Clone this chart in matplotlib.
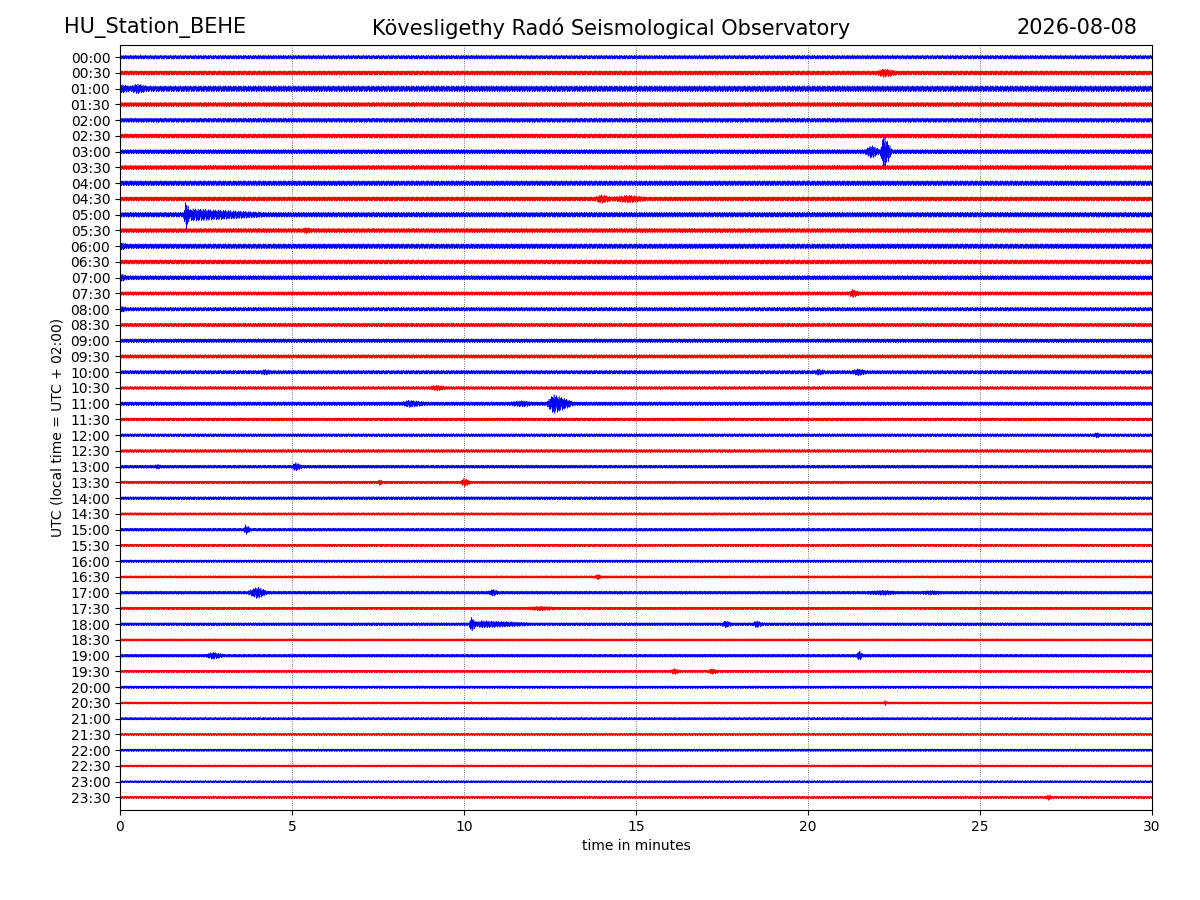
import matplotlib
matplotlib.use('Agg')
import matplotlib.pyplot as plt
import numpy as np

# Row labels (UTC start of each 30 min line)
row_labels = ['%02d:%02d' % (h, m) for h in range(24) for m in (0, 30)]
row_colors = ['b', 'r'] * 24

# Background noise half-width of each line (in row units)
noise_amp = [0.13, 0.15, 0.20, 0.15, 0.15, 0.15, 0.15, 0.15,
             0.17, 0.15, 0.17, 0.15, 0.17, 0.15, 0.15, 0.13,
             0.13, 0.13, 0.13, 0.13, 0.13, 0.11, 0.13, 0.11,
             0.11, 0.11, 0.11, 0.095, 0.11, 0.095, 0.11, 0.09,
             0.095, 0.09, 0.11, 0.095, 0.11, 0.09, 0.11, 0.09,
             0.095, 0.085, 0.09, 0.08, 0.09, 0.08, 0.08, 0.085]

# Events: (row, onset, peak, end, peak half-amplitude) in minutes / row units
events = [
    ('00:30', 22.0, 22.2, 22.6, 0.3),
    ('01:00', 0.0, 0.05, 0.3, 0.3),
    ('01:00', 0.3, 0.5, 0.8, 0.33),
    ('03:00', 21.65, 21.85, 22.1, 0.45),
    ('03:00', 22.1, 22.2, 22.45, 1.2),
    ('04:30', 13.8, 14.0, 14.3, 0.3),
    ('04:30', 14.3, 14.8, 15.3, 0.27),
    ('05:00', 1.85, 1.92, 2.05, 1.0),
    ('05:00', 1.9, 2.1, 4.2, 0.42),
    ('05:30', 5.3, 5.4, 5.6, 0.22),
    ('06:00', 0.0, 0.05, 0.2, 0.27),
    ('07:00', 0.0, 0.05, 0.2, 0.27),
    ('07:30', 21.2, 21.3, 21.5, 0.3),
    ('08:00', 0.0, 0.05, 0.2, 0.22),
    ('10:00', 4.1, 4.2, 4.4, 0.2),
    ('10:00', 20.2, 20.3, 20.5, 0.22),
    ('10:00', 21.3, 21.45, 21.7, 0.25),
    ('10:30', 9.0, 9.2, 9.5, 0.2),
    ('11:00', 8.2, 8.4, 8.9, 0.25),
    ('11:00', 11.3, 11.7, 12.0, 0.22),
    ('11:00', 12.4, 12.6, 13.2, 0.65),
    ('12:00', 28.3, 28.4, 28.5, 0.2),
    ('13:00', 1.0, 1.1, 1.2, 0.18),
    ('13:00', 5.0, 5.1, 5.3, 0.3),
    ('13:30', 7.5, 7.55, 7.65, 0.22),
    ('13:30', 9.9, 10.0, 10.2, 0.3),
    ('15:00', 3.6, 3.65, 3.8, 0.35),
    ('16:30', 13.8, 13.9, 14.0, 0.2),
    ('17:00', 3.7, 4.0, 4.3, 0.4),
    ('17:00', 10.7, 10.85, 11.0, 0.25),
    ('17:00', 21.7, 22.2, 22.6, 0.18),
    ('17:00', 23.3, 23.6, 23.9, 0.16),
    ('17:30', 11.8, 12.2, 12.8, 0.16),
    ('18:00', 10.15, 10.2, 10.4, 0.5),
    ('18:00', 10.3, 10.5, 12.0, 0.25),
    ('18:00', 17.5, 17.6, 17.8, 0.25),
    ('18:00', 18.4, 18.5, 18.7, 0.25),
    ('19:00', 2.5, 2.7, 3.0, 0.25),
    ('19:00', 21.4, 21.5, 21.6, 0.35),
    ('19:30', 16.0, 16.1, 16.3, 0.22),
    ('19:30', 17.1, 17.2, 17.4, 0.22),
    ('20:30', 22.2, 22.25, 22.3, 0.2),
    ('23:30', 26.9, 27.0, 27.1, 0.2),
]

# fixed wiggle shape repeated along each line (fraction of the envelope)
wiggle = [0.2, -0.5, 0.1, -0.9, 0.35, -0.15, 0.6, -0.3, 1.0,
          -0.25, 0.45, -0.7, 0.05, -0.4, 0.8, -0.1, 0.3]

fig = plt.figure(figsize=(12, 9), dpi=100)
ax = fig.add_axes([0.1, 0.1, 0.86, 0.85])

t = np.linspace(0, 30, 7000)
zig = np.resize(np.array(wiggle), t.size)

for i, lab in enumerate(row_labels):
    env = np.full_like(t, noise_amp[i])
    for (r, t0, tp, t1, a) in events:
        if r == lab:
            env = np.maximum(env, np.interp(t, [t0, tp, t1], [noise_amp[i], a, noise_amp[i]],
                                            left=noise_amp[i], right=noise_amp[i]))
    ax.plot(t, i + zig * env, color=row_colors[i], linewidth=0.4)

ax.set_xlim(0, 30)
ax.set_ylim(47.8, -0.77)
ax.set_yticks(range(len(row_labels)))
ax.set_yticklabels(row_labels)
ax.set_xticks([0, 5, 10, 15, 20, 25, 30])
ax.xaxis.grid(True, linestyle=':', color='k', linewidth=0.6, alpha=0.7)
ax.set_xlabel('time in minutes')
ax.set_ylabel('UTC (local time = UTC + 02:00)')

fig.text(0.053, 0.969, 'HU_Station_BEHE', fontsize=15, ha='left', va='center')
fig.text(0.509, 0.969, 'Kövesligethy Radó Seismological Observatory', fontsize=15, ha='center', va='center')
fig.text(0.948, 0.969, '2026-08-08', fontsize=15, ha='right', va='center')

plt.savefig('out.png')
